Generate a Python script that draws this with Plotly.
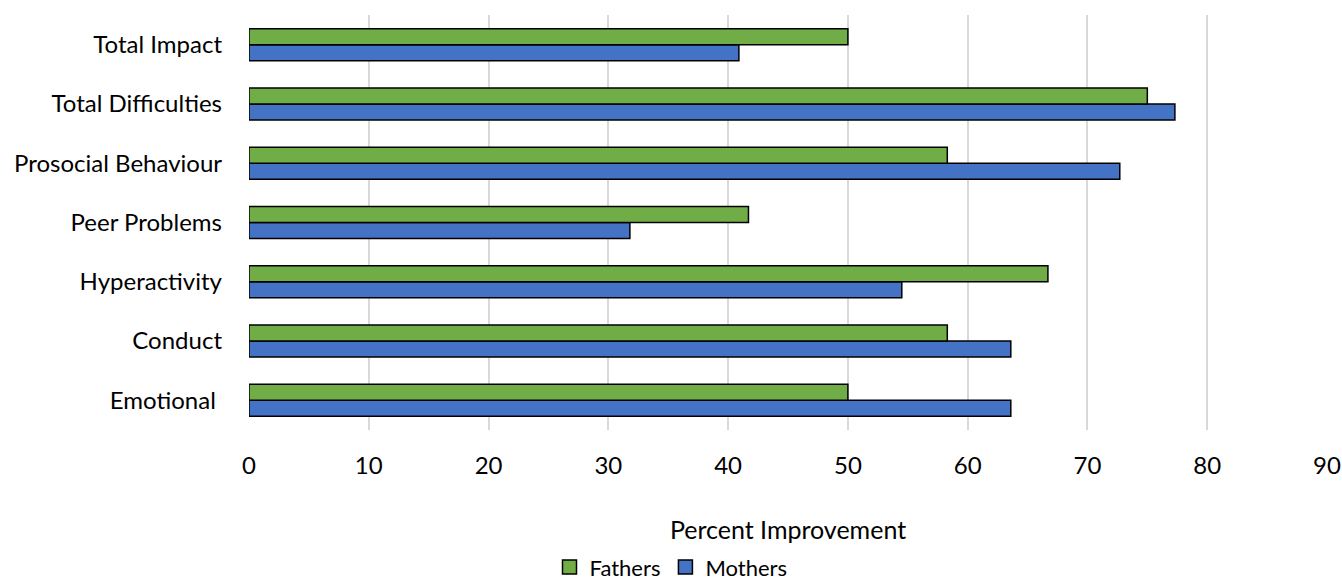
import plotly.graph_objects as go

categories = ["Emotional\u00a0", "Conduct", "Hyperactivity", "Peer Problems",
              "Prosocial Behaviour", "Total Difficulties", "Total Impact"]
fathers = [50.0, 58.3, 66.7, 41.7, 58.3, 75.0, 50.0]
mothers = [63.6, 63.6, 54.5, 31.8, 72.7, 77.3, 40.9]
x_ticks = [0, 10, 20, 30, 40, 50, 60, 70, 80, 90]

FONT = "Lato, Calibri, Carlito, sans-serif"
GREEN = "#70AD47"
BLUE = "#4472C4"

fig = go.Figure()
fig.add_trace(go.Bar(
    y=categories, x=mothers, name="Mothers", orientation="h",
    marker=dict(color=BLUE, line=dict(color="#000000", width=1.5)),
    showlegend=False,
))
fig.add_trace(go.Bar(
    y=categories, x=fathers, name="Fathers", orientation="h",
    marker=dict(color=GREEN, line=dict(color="#000000", width=1.5)),
    showlegend=False,
))

# square legend keys with black outlines
for name, color, rank in [("Fathers", GREEN, 1), ("Mothers", BLUE, 2)]:
    fig.add_trace(go.Scatter(
        x=[None], y=[None], mode="markers", name=name, legendrank=rank,
        marker=dict(symbol="square", size=14, color=color,
                    line=dict(color="#000000", width=1.5)),
    ))

fig.update_layout(
    width=1342, height=580,
    margin=dict(l=249, r=15, t=15, b=150),
    barmode="group", bargap=0.46, bargroupgap=0,
    plot_bgcolor="white", paper_bgcolor="white",
    font=dict(family=FONT, size=24, color="#000000"),
    showlegend=True,
    legend=dict(orientation="h", xref="container", yref="container",
                x=0.5, xanchor="center", y=0.022, yanchor="middle",
                font=dict(size=22), itemwidth=30, tracegroupgap=0),
    xaxis=dict(range=[0, 90], tickvals=x_ticks, showgrid=True,
               gridcolor="#d9d9d9", gridwidth=1.5, zeroline=False,
               showline=False, ticks="", ticklabelstandoff=19,
               automargin=False,
               title=dict(text="Percent Improvement", standoff=43,
                          font=dict(size=25))),
    yaxis=dict(showgrid=False, zeroline=False, showline=False, ticks="",
               ticklabelstandoff=26, automargin=False),
)

fig.write_html("out.html")
